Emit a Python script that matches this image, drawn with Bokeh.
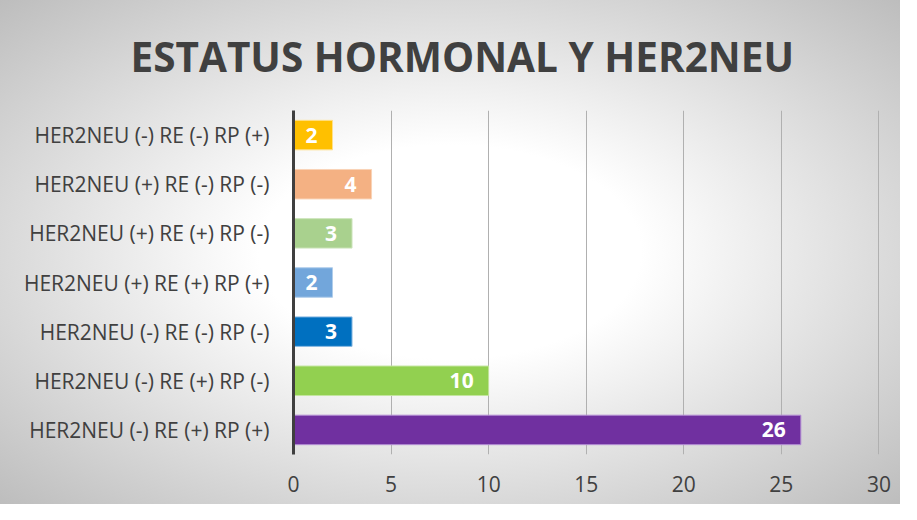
from bokeh.plotting import figure
from bokeh.models import ColumnDataSource, FactorRange, Range1d, FixedTicker, Title
from bokeh.core.properties import value
from bokeh.embed import file_html
from bokeh.resources import INLINE

categories = [
    "HER2NEU (-) RE (-) RP (+)",
    "HER2NEU (+) RE (-) RP (-)",
    "HER2NEU (+) RE (+) RP (-)",
    "HER2NEU (+) RE (+) RP (+)",
    "HER2NEU (-) RE (-) RP (-)",
    "HER2NEU (-) RE (+) RP (-)",
    "HER2NEU (-) RE (+) RP (+)",
]
values = [2, 4, 3, 2, 3, 10, 26]
colors = ["#FFC000", "#F4B183", "#A9D18E", "#72A6DB", "#0070C0", "#92D050", "#7030A0"]
outlines = ["#FFE08A", "#F9D3B6", "#CFE6BF", "#B0CDEB", "#8CBBE3", "#C4E59E", "#B48FD4"]
x_ticks = [0, 5, 10, 15, 20, 25, 30]
title_text = "ESTATUS HORMONAL Y HER2NEU"

src = ColumnDataSource(dict(cat=categories, val=values, color=colors, outline=outlines,
                            lbl=[str(v) for v in values]))

p = figure(width=900, height=504, output_backend="svg", toolbar_location=None,
           y_range=FactorRange(factors=list(reversed(categories))),
           x_range=Range1d(0, 30.03),
           min_border_left=293, min_border_right=21, min_border_top=110, min_border_bottom=50)
p.background_fill_color = None
p.border_fill_color = None
p.outline_line_color = None
p.styles = {"background": "radial-gradient(ellipse farthest-corner at 50% 50%, #ffffff 0%, #ffffff 30%, #bdbdbd 100%)"}

p.hbar(y="cat", right="val", left=0, height=0.6, source=src,
       fill_color="color", line_color="outline", line_width=1)
p.text(x="val", y="cat", text="lbl", source=src, text_align="right", text_baseline="middle",
       x_offset=-15, text_color="white", text_font=value("Open Sans"), text_font_style="bold",
       text_font_size="21px")

p.xaxis.ticker = FixedTicker(ticks=x_ticks)
p.xaxis.axis_line_color = None
p.xaxis.major_tick_line_color = None
p.xaxis.minor_tick_line_color = None
p.xaxis.major_label_standoff = 15
p.xaxis.major_label_text_font = "Open Sans"
p.xaxis.major_label_text_font_size = "21px"
p.xaxis.major_label_text_color = "#404040"

p.yaxis.axis_line_color = "#3f3f3f"
p.yaxis.axis_line_width = 3
p.yaxis.major_tick_line_color = None
p.yaxis.minor_tick_line_color = None
p.yaxis.major_label_standoff = 18
p.yaxis.major_label_text_font = "Open Sans"
p.yaxis.major_label_text_font_size = "21px"
p.yaxis.major_label_text_color = "#404040"

p.xgrid.grid_line_color = "#b0b0b0"
p.xgrid.grid_line_width = 1
p.ygrid.grid_line_color = None

t = Title(text=title_text, align="left", offset=-163, text_font="Open Sans",
          text_font_style="bold", text_font_size="40.5px", text_color="#404040", standoff=53)
p.add_layout(t, "above")

open("out.html", "w").write(file_html(p, INLINE))
